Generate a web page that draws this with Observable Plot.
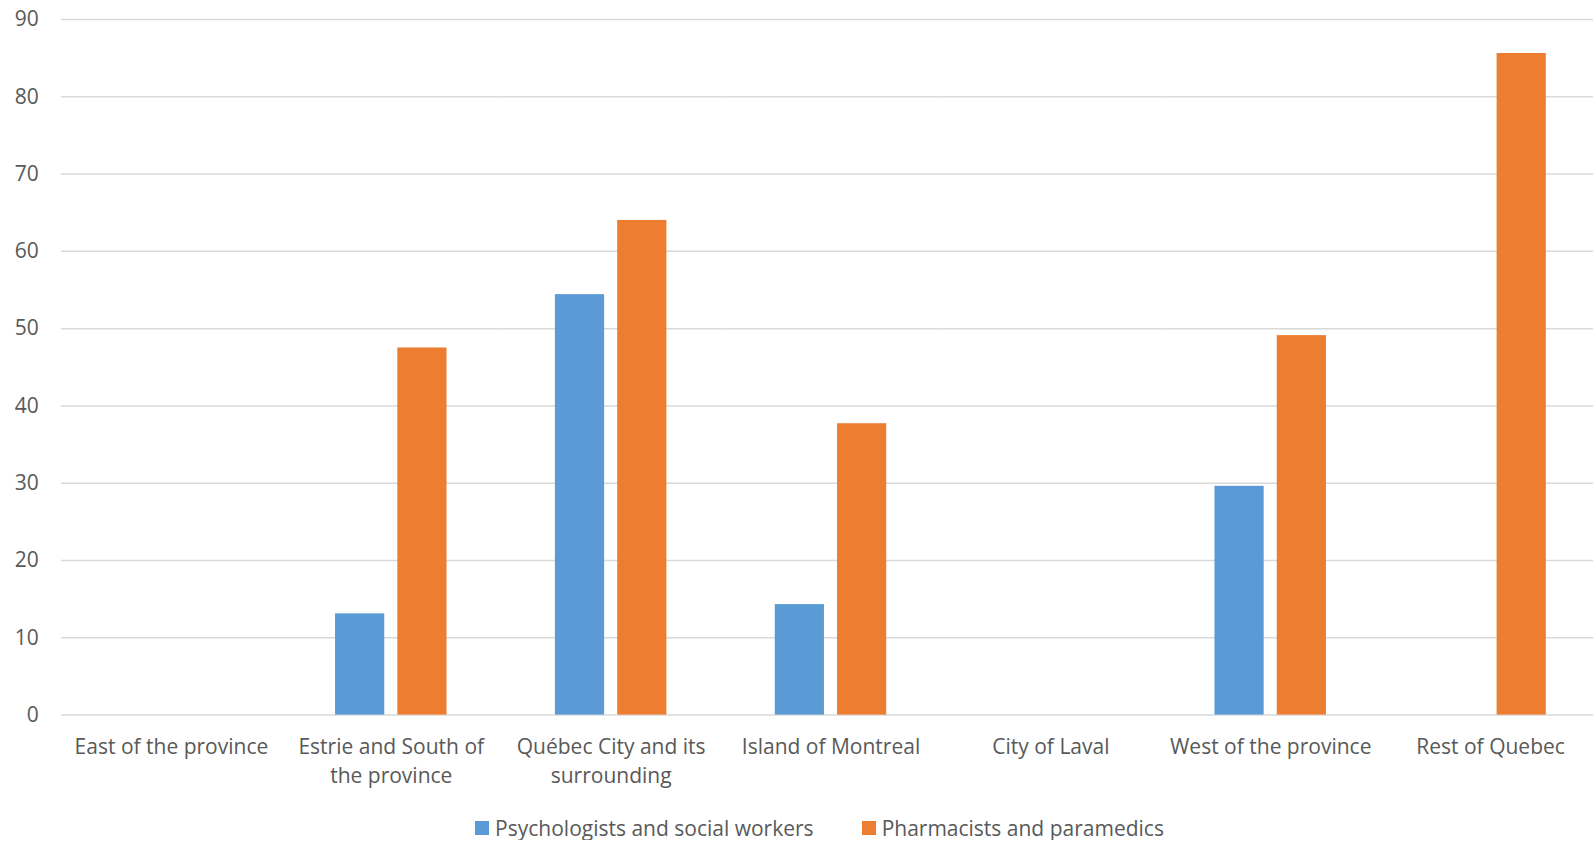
<!DOCTYPE html>
<html>
<head>
<meta charset="utf-8">
<script src="https://cdn.jsdelivr.net/npm/d3@7"></script>
<script src="https://cdn.jsdelivr.net/npm/@observablehq/plot@0.6"></script>
<style>
  html, body { margin: 0; padding: 0; background: #fff; overflow: hidden; }
  #chart svg { display: block; }
  .legend { display: flex; justify-content: center; align-items: center; padding-left: 46px; padding-top: 16px; height: 24px;
            font-family: "Open Sans", sans-serif; font-size: 21px; color: #595959; line-height: 24px; }
  .legend .item { display: flex; align-items: center; margin: 0 24px; }
  .legend .sw { width: 14px; height: 14px; margin-right: 6px; display: inline-block; }
</style>
</head>
<body>
<div id="chart"></div>
<div class="legend" id="legend"></div>
<script>
const categories = ["East of the province", "Estrie and South of the province", "Québec City and its surrounding", "Island of Montreal", "City of Laval", "West of the province", "Rest of Quebec"];
const tickLabels = ["East of the province", "Estrie and South of\nthe province", "Québec City and its\nsurrounding", "Island of Montreal", "City of Laval", "West of the province", "Rest of Quebec"];
const series = ["Psychologists and social workers", "Pharmacists and paramedics"];
const psychologists = [0, 13.1, 54.4, 14.3, 0, 29.6, 0];
const pharmacists = [0, 47.5, 64.0, 37.7, 0, 49.1, 85.6];
const colors = ["#5b9bd5", "#ed7d31"];
const yTicks = [0, 10, 20, 30, 40, 50, 60, 70, 80, 90];

const data = [];
categories.forEach((c, i) => {
  data.push({region: c, series: series[0], value: psychologists[i]});
  data.push({region: c, series: series[1], value: pharmacists[i]});
});

const textColor = "#595959";
const plot = Plot.plot({
  width: 1593,
  height: 800,
  marginTop: 19,
  marginLeft: 61,
  marginRight: -7,
  marginBottom: 85.4,
  style: {fontFamily: "'Open Sans', sans-serif", background: "#fff"},
  fx: {domain: categories, padding: 0, round: false, label: null},
  x: {domain: series, paddingInner: 0.21, paddingOuter: 0.87, round: false, axis: null},
  y: {domain: [0, 90], label: null},
  color: {domain: series, range: colors},
  marks: [
    Plot.gridY(yTicks, {stroke: "#d9d9d9", strokeOpacity: 1, strokeWidth: 1.5}),
    Plot.axisY(yTicks, {tickSize: 0, tickPadding: 22.7, fontSize: 21, fill: textColor, label: null}),
    Plot.axisFx({anchor: "bottom", tickSize: 0, tickPadding: 18, lineHeight: 1.4, fontSize: 21, fill: textColor, label: null,
      tickFormat: d => tickLabels[categories.indexOf(d)]}),
    Plot.barY(data, {fx: "region", x: "series", y: "value", fill: "series"})
  ]
});
document.getElementById("chart").append(plot);

const legend = document.getElementById("legend");
series.forEach((s, i) => {
  const item = document.createElement("span");
  item.className = "item";
  const sw = document.createElement("span");
  sw.className = "sw";
  sw.style.background = colors[i];
  item.append(sw, document.createTextNode(s));
  legend.append(item);
});
</script>
</body>
</html>
